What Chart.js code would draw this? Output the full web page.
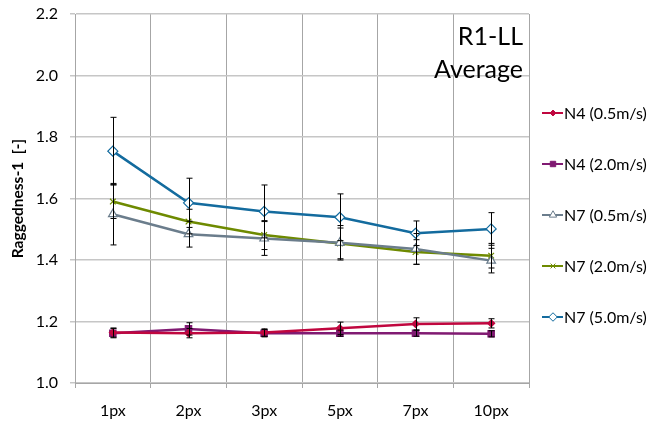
<!DOCTYPE html>
<html>
<head>
<meta charset="utf-8">
<script src="https://cdn.jsdelivr.net/npm/chart.js@4.4.0/dist/chart.umd.min.js"></script>
<style>
  html, body { margin: 0; padding: 0; background: #fff; }
  #wrap { width: 653px; height: 425px; }
</style>
</head>
<body>
<div id="wrap"><canvas id="chart" width="653" height="425"></canvas></div>
<script>
// categorias del eje x
const categories = ['1px', '2px', '3px', '5px', '7px', '10px'];

// valores medios por serie
const n4_05 = [1.164, 1.162, 1.164, 1.178, 1.192, 1.194];
const n4_20 = [1.162, 1.176, 1.162, 1.162, 1.162, 1.160];
const n7_05 = [1.549, 1.484, 1.470, 1.456, 1.436, 1.398];
const n7_20 = [1.590, 1.525, 1.481, 1.454, 1.426, 1.414];
const n7_50 = [1.754, 1.586, 1.558, 1.539, 1.487, 1.501];

// barras de error (+/-)
const n4_05_err = [0.015, 0.015, 0.012, 0.02, 0.02, 0.015];
const n4_20_err = [0.015, 0.02, 0.012, 0.01, 0.01, 0.01];
const n7_05_err = [0.100, 0.042, 0.055, 0.056, 0.050, 0.040];
const n7_20_err = [0.055, 0.040, 0.047, 0.050, 0.040, 0.040];
const n7_50_err = [0.110, 0.080, 0.086, 0.076, 0.040, 0.053];

const yTicks = [1.0, 1.2, 1.4, 1.6, 1.8, 2.0, 2.2];

const FONT = 'Lato, "Open Sans", sans-serif';

const series = [
  { label: 'N4 (0.5m/s)', data: n4_05, err: n4_05_err, color: '#c0073f', style: 'rectRot', r: 3.5, fill: '#c0073f' },
  { label: 'N4 (2.0m/s)', data: n4_20, err: n4_20_err, color: '#801a72', style: 'rect', r: 4.5, fill: '#801a72' },
  { label: 'N7 (0.5m/s)', data: n7_05, err: n7_05_err, color: '#6b7d8c', style: 'triangle', r: 5, fill: '#ffffff' },
  { label: 'N7 (2.0m/s)', data: n7_20, err: n7_20_err, color: '#6e8a00', style: 'crossRot', r: 4, fill: '#6e8a00' },
  { label: 'N7 (5.0m/s)', data: n7_50, err: n7_50_err, color: '#136b9e', style: 'rectRot', r: 5, fill: '#ffffff' }
];

// barras de error dibujadas con la escala y
const errorBars = {
  id: 'errorBars',
  afterDatasetsDraw(chart) {
    const ctx = chart.ctx;
    const y = chart.scales.y;
    ctx.save();
    ctx.strokeStyle = '#000';
    ctx.lineWidth = 1;
    chart.data.datasets.forEach((ds, di) => {
      const meta = chart.getDatasetMeta(di);
      meta.data.forEach((pt, i) => {
        const e = ds.errors[i];
        const top = y.getPixelForValue(ds.data[i] + e);
        const bot = y.getPixelForValue(ds.data[i] - e);
        const x = Math.round(pt.x) + 0.5;
        ctx.beginPath();
        ctx.moveTo(x, top); ctx.lineTo(x, bot);
        ctx.moveTo(x - 3, top); ctx.lineTo(x + 3, top);
        ctx.moveTo(x - 3, bot); ctx.lineTo(x + 3, bot);
        ctx.stroke();
      });
    });
    ctx.restore();
  }
};

// leyenda propia a la derecha y titulo dentro del area
const sideLegend = {
  id: 'sideLegend',
  afterDraw(chart) {
    const ctx = chart.ctx;
    const area = chart.chartArea;
    ctx.save();
    ctx.fillStyle = '#000';
    ctx.font = '25px ' + FONT;
    ctx.textAlign = 'right';
    ctx.textBaseline = 'middle';
    ctx.fillText('R1-LL', area.right - 6, 37);
    ctx.fillText('Average', area.right - 6, 70);

    const x0 = 542, y0 = 113, step = 51;
    chart.data.datasets.forEach((ds, i) => {
      const yy = y0 + i * step;
      ctx.strokeStyle = ds.borderColor;
      ctx.lineWidth = 2;
      ctx.beginPath();
      ctx.moveTo(x0, yy); ctx.lineTo(x0 + 21, yy);
      ctx.stroke();
      ctx.fillStyle = ds.pointBackgroundColor;
      ctx.strokeStyle = ds.pointBorderColor;
      ctx.lineWidth = 1;
      Chart.helpers.drawPoint(ctx, {
        pointStyle: ds.pointStyle, radius: ds.pointRadius * 0.85, borderWidth: 1, rotation: 0
      }, x0 + 11, yy);
      ctx.fillStyle = '#000';
      ctx.font = '16px ' + FONT;
      ctx.textAlign = 'left';
      ctx.fillText(ds.label, x0 + 22, yy + 1);
    });
    ctx.restore();
  }
};

new Chart(document.getElementById('chart'), {
  type: 'line',
  data: {
    labels: categories,
    datasets: series.map(s => ({
      label: s.label,
      data: s.data,
      errors: s.err,
      borderColor: s.color,
      borderWidth: 2.5,
      pointStyle: s.style,
      pointRadius: s.r,
      pointHoverRadius: s.r,
      pointBackgroundColor: s.fill,
      pointBorderColor: s.color,
      pointBorderWidth: 1.2,
      tension: 0
    }))
  },
  options: {
    responsive: false,
    animation: false,
    devicePixelRatio: 1,
    layout: { padding: { left: 0, top: 14, right: 124, bottom: 0 } },
    plugins: {
      legend: { display: false },
      tooltip: { enabled: false }
    },
    scales: {
      x: {
        offset: true,
        grid: { offset: true, color: '#a6a6a6', lineWidth: 1, tickLength: 5, drawTicks: true },
        border: { color: '#a6a6a6' },
        ticks: { color: '#000', font: { family: FONT, size: 16 }, padding: 13, maxRotation: 0 },
        afterFit(scale) { scale.height = 42; scale.paddingLeft = 0; scale.paddingRight = 0; }
      },
      y: {
        min: 1.0, max: 2.2,
        afterBuildTicks(scale) { scale.ticks = yTicks.map(v => ({ value: v })); },
        grid: { color: '#c6c6c6', lineWidth: 1.5, tickLength: 5 },
        border: { color: '#a6a6a6' },
        ticks: {
          color: '#000', font: { family: FONT, size: 16 }, padding: 12,
          callback: v => Number(v).toFixed(1)
        },
        title: {
          display: true, text: 'Raggedness-1  [-]', color: '#000',
          font: { family: FONT, size: 15.5, weight: 'bold' }, padding: { top: 9, bottom: 4 }
        },
        afterFit(scale) { scale.width = 75; scale.paddingTop = 0; scale.paddingBottom = 0; }
      }
    }
  },
  plugins: [errorBars, sideLegend]
});
</script>
</body>
</html>
